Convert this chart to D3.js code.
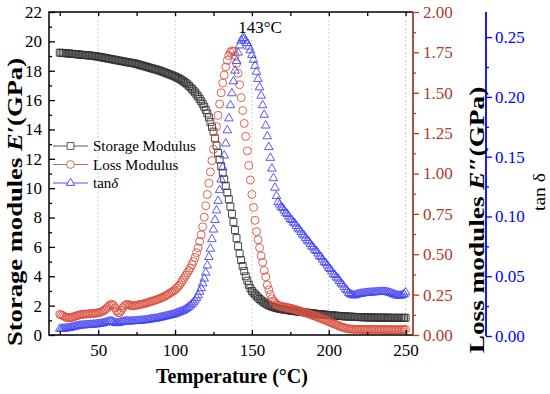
<!DOCTYPE html>
<html>
<head>
<meta charset="utf-8">
<script src="https://cdn.jsdelivr.net/npm/d3@7"></script>
<style>
body { margin: 0; background: #fff; }
text { font-family: "Liberation Serif", "Times New Roman", serif; }
</style>
</head>
<body>
<div id="chart"></div>
<script>
// temperature (°C) of every measured point
var temps = [
	25,26,27,28,29,30,31,32,33,34, 35,36,37,38,39,40,41,42,43,44,
	45,46,47,48,49,50,51,52,53,54, 55,56,57,58,59,60,61,62,63,64,
	65,66,67,68,69,70,71,72,73,74, 75,76,77,78,79,80,81,82,83,84,
	85,86,87,88,89,90,91,92,93,94, 95,96,97,98,99,100,101,102,103,104,
	105,106,107,108,109,110,111,112,113,114, 115,116,117,118,119,120,121,122,123,124,
	125,126,127,128,129,130,131,132,133,134, 135,136,137,138,139,140,141,142,143,144,
	145,146,147,148,149,150,151,152,153,154, 155,156,157,158,159,160,161,162,163,164,
	165,166,167,168,169,170,171,172,173,174, 175,176,177,178,179,180,181,182,183,184,
	185,186,187,188,189,190,191,192,193,194, 195,196,197,198,199,200,201,202,203,204,
	205,206,207,208,209,210,211,212,213,214, 215,216,217,218,219,220,221,222,223,224,
	225,226,227,228,229,230,231,232,233,234, 235,236,237,238,239,240,241,242,243,244,
	245,246,247,248,249,250
];

// storage modulus E' (GPa)
var storage = [
	19.23,19.22,19.21,19.20,19.19,19.18,19.17,19.16,19.15,19.14,
	19.13,19.12,19.11,19.10,19.09,19.08,19.07,19.06,19.05,19.04,
	19.03,19.02,19.00,18.99,18.97,18.96,18.94,18.92,18.90,18.88,
	18.86,18.84,18.82,18.80,18.78,18.76,18.74,18.72,18.70,18.68,
	18.66,18.64,18.62,18.60,18.58,18.56,18.55,18.53,18.51,18.49,
	18.46,18.43,18.40,18.37,18.34,18.31,18.28,18.25,18.22,18.19,
	18.16,18.13,18.10,18.07,18.04,18.01,17.97,17.93,17.89,17.85,
	17.81,17.77,17.73,17.69,17.65,17.60,17.55,17.50,17.44,17.38,
	17.31,17.24,17.16,17.07,16.97,16.87,16.76,16.64,16.52,16.38,
	16.24,16.08,15.92,15.74,15.55,15.33,15.09,14.82,14.50,14.18,
	13.85,13.40,12.90,12.40,11.95,11.50,11.05,10.60,10.15,9.70,
	9.25,8.75,8.25,7.70,7.15,6.60,6.05,5.55,5.10,4.70,
	4.35,4.00,3.70,3.42,3.18,3.00,2.88,2.77,2.66,2.55,
	2.45,2.36,2.28,2.21,2.14,2.08,2.03,1.98,1.94,1.90,
	1.87,1.84,1.81,1.79,1.77,1.75,1.73,1.71,1.70,1.68,
	1.67,1.65,1.64,1.62,1.61,1.60,1.58,1.57,1.56,1.54,
	1.53,1.52,1.50,1.49,1.48,1.47,1.46,1.44,1.43,1.42,
	1.41,1.40,1.39,1.38,1.37,1.36,1.35,1.34,1.33,1.32,
	1.31,1.30,1.30,1.29,1.28,1.27,1.27,1.26,1.25,1.25,
	1.24,1.24,1.23,1.23,1.22,1.22,1.21,1.21,1.21,1.20,
	1.20,1.20,1.20,1.19,1.19,1.19,1.19,1.19,1.18,1.18,
	1.18,1.18,1.18,1.18,1.18,1.17,1.17,1.17,1.17,1.17,
	1.17,1.17,1.17,1.17,1.17,1.17
];

// loss modulus E'' (GPa)
var loss = [
	0.128,0.125,0.120,0.115,0.110,0.107,0.106,0.107,0.110,0.113,
	0.116,0.119,0.122,0.125,0.127,0.128,0.129,0.130,0.130,0.131,
	0.132,0.133,0.134,0.135,0.136,0.138,0.140,0.143,0.147,0.153,
	0.161,0.170,0.180,0.188,0.190,0.183,0.168,0.150,0.138,0.140,
	0.152,0.168,0.180,0.188,0.190,0.187,0.183,0.181,0.181,0.182,
	0.184,0.186,0.188,0.190,0.192,0.194,0.197,0.200,0.203,0.206,
	0.209,0.212,0.215,0.218,0.222,0.226,0.230,0.234,0.239,0.244,
	0.249,0.255,0.261,0.267,0.273,0.280,0.290,0.300,0.310,0.325,
	0.340,0.355,0.370,0.385,0.400,0.415,0.435,0.455,0.480,0.510,
	0.540,0.580,0.620,0.670,0.730,0.800,0.870,0.940,1.010,1.080,
	1.150,1.220,1.290,1.360,1.430,1.500,1.560,1.610,1.660,1.700,
	1.730,1.750,1.760,1.755,1.730,1.680,1.620,1.550,1.470,1.390,
	1.310,1.230,1.140,1.050,0.960,0.870,0.790,0.710,0.640,0.590,
	0.540,0.490,0.450,0.400,0.360,0.310,0.280,0.250,0.225,0.210,
	0.200,0.190,0.185,0.180,0.178,0.176,0.174,0.172,0.170,0.168,
	0.166,0.163,0.161,0.158,0.155,0.152,0.149,0.146,0.143,0.140,
	0.137,0.134,0.131,0.127,0.124,0.120,0.117,0.113,0.110,0.106,
	0.102,0.099,0.095,0.091,0.087,0.083,0.079,0.075,0.071,0.067,
	0.063,0.059,0.055,0.051,0.048,0.045,0.042,0.040,0.038,0.037,
	0.036,0.036,0.035,0.035,0.035,0.035,0.035,0.034,0.034,0.034,
	0.034,0.034,0.034,0.034,0.034,0.034,0.034,0.034,0.034,0.034,
	0.033,0.033,0.033,0.033,0.033,0.033,0.033,0.033,0.033,0.033,
	0.033,0.033,0.033,0.033,0.033,0.034
];

// tan delta
var tanDelta = [
	0.0060,0.0060,0.0061,0.0062,0.0063,0.0065,0.0067,0.0070,0.0073,0.0076,
	0.0079,0.0082,0.0085,0.0087,0.0088,0.0089,0.0090,0.0091,0.0092,0.0093,
	0.0094,0.0095,0.0096,0.0097,0.0098,0.0100,0.0102,0.0104,0.0107,0.0110,
	0.0114,0.0118,0.0122,0.0124,0.0122,0.0116,0.0110,0.0107,0.0108,0.0112,
	0.0116,0.0120,0.0122,0.0123,0.0123,0.0122,0.0122,0.0123,0.0124,0.0125,
	0.0126,0.0127,0.0128,0.0129,0.0130,0.0131,0.0133,0.0135,0.0137,0.0139,
	0.0141,0.0143,0.0145,0.0147,0.0150,0.0153,0.0156,0.0159,0.0162,0.0165,
	0.0168,0.0171,0.0174,0.0177,0.0180,0.0185,0.0190,0.0195,0.0200,0.0205,
	0.0210,0.0217,0.0225,0.0235,0.0245,0.0255,0.0268,0.0282,0.0298,0.0318,
	0.0340,0.0370,0.0400,0.0440,0.0480,0.0530,0.0590,0.0660,0.0730,0.0810,
	0.0890,0.0970,0.1050,0.1130,0.1220,0.1310,0.1410,0.1510,0.1610,0.1720,
	0.1820,0.1930,0.2030,0.2130,0.2220,0.2300,0.2370,0.2430,0.2470,0.2490,
	0.2490,0.2470,0.2450,0.2420,0.2390,0.2350,0.2310,0.2260,0.2210,0.2150,
	0.2080,0.2010,0.1930,0.1850,0.1760,0.1670,0.1580,0.1490,0.1400,0.1320,
	0.1240,0.1170,0.1120,0.1100,0.1080,0.1070,0.1050,0.1030,0.1020,0.1000,
	0.0980,0.0970,0.0950,0.0940,0.0920,0.0900,0.0890,0.0870,0.0850,0.0840,
	0.0820,0.0800,0.0790,0.0770,0.0750,0.0740,0.0720,0.0710,0.0690,0.0670,
	0.0660,0.0640,0.0620,0.0610,0.0590,0.0570,0.0560,0.0540,0.0520,0.0510,
	0.0490,0.0480,0.0460,0.0440,0.0430,0.0410,0.0390,0.0380,0.0360,0.0350,
	0.0345,0.0340,0.0340,0.0345,0.0350,0.0352,0.0354,0.0356,0.0358,0.0360,
	0.0361,0.0362,0.0363,0.0364,0.0365,0.0366,0.0367,0.0368,0.0369,0.0370,
	0.0370,0.0370,0.0369,0.0367,0.0364,0.0360,0.0355,0.0350,0.0345,0.0340,
	0.0338,0.0337,0.0338,0.0342,0.0350,0.0365
];

// tick values
var xTicks = [50, 100, 150, 200, 250];
var xMinor = [25, 75, 125, 175, 225];
var leftTicks = [0, 2, 4, 6, 8, 10, 12, 14, 16, 18, 20, 22];
var leftMinor = [1, 3, 5, 7, 9, 11, 13, 15, 17, 19, 21];
var redTicks = [0, 0.25, 0.5, 0.75, 1, 1.25, 1.5, 1.75, 2];
var redMinor = [0.125, 0.375, 0.625, 0.875, 1.125, 1.375, 1.625, 1.875];
var blueTicks = [0, 0.05, 0.1, 0.15, 0.2, 0.25];
var blueMinor = [0.025, 0.075, 0.125, 0.175, 0.225];
var peakLabel = "143°C";

var width = 550, height = 394;
var plot = {left: 49, right: 413, top: 12, bottom: 335};
var redColor = "#ab3d28";
var blueColor = "#0000ff";

var x = d3.scaleLinear().domain([18, 254.8]).range([plot.left, plot.right]);
var yStor = d3.scaleLinear().domain([0, 22]).range([plot.bottom, plot.top]);
var yLoss = d3.scaleLinear().domain([0, 2]).range([plot.bottom, plot.top]);
var yTan = d3.scaleLinear().domain([0, 0.271]).range([336, 12]);

var svg = d3.select("#chart").append("svg")
	.attr("width", width)
	.attr("height", height);

svg.append("rect").attr("width", width).attr("height", height).attr("fill", "#fff");

// dashed vertical grid
svg.append("g").selectAll("line")
	.data(xTicks)
	.enter().append("line")
		.attr("x1", d => x(d)).attr("x2", d => x(d))
		.attr("y1", plot.top).attr("y2", plot.bottom)
		.attr("stroke", "#c4c4c4")
		.attr("stroke-width", 0.8)
		.attr("stroke-dasharray", "2,2");

// series points
var series = [
	{values: storage, y: yStor, type: d3.symbolSquare, size: 48, color: "#333"},
	{values: loss, y: yLoss, type: d3.symbolCircle, size: 50, color: "#d9503e"},
	{values: tanDelta, y: yTan, type: d3.symbolTriangle, size: 32, color: "#4646f0"}
];

series.forEach(function(s) {
	svg.append("g").selectAll("path")
		.data(temps)
		.enter().append("path")
			.attr("d", d3.symbol().type(s.type).size(s.size))
			.attr("transform", (d, i) => "translate(" + x(d) + "," + s.y(s.values[i]) + ")")
			.attr("fill", "none")
			.attr("stroke", s.color)
			.attr("stroke-width", 0.9);
});

function styleAxis(g, color) {
	g.select(".domain").remove();
	g.selectAll("line").attr("stroke", color).attr("stroke-width", 1.3);
	g.selectAll("text").attr("fill", color).style("font-size", "17px")
		.style("font-family", "'Liberation Serif', 'Times New Roman', serif");
}

// bottom axis (ticks inward)
svg.append("g")
	.attr("transform", "translate(0," + plot.bottom + ")")
	.call(d3.axisBottom(x).tickValues(xTicks).tickSize(-5).tickPadding(9))
	.call(g => styleAxis(g, "#000"));
svg.append("g")
	.attr("transform", "translate(0," + plot.bottom + ")")
	.call(d3.axisBottom(x).tickValues(xMinor).tickSize(-3).tickFormat(""))
	.call(g => styleAxis(g, "#000"));

// top axis (ticks only)
svg.append("g")
	.attr("transform", "translate(0," + plot.top + ")")
	.call(d3.axisTop(x).tickValues(xTicks.concat(xMinor)).tickSize(-4).tickFormat(""))
	.call(g => styleAxis(g, "#000"));

// left axis
svg.append("g")
	.attr("transform", "translate(" + plot.left + ",0)")
	.call(d3.axisLeft(yStor).tickValues(leftTicks).tickSize(-6).tickPadding(7))
	.call(g => styleAxis(g, "#000"));
svg.append("g")
	.attr("transform", "translate(" + plot.left + ",0)")
	.call(d3.axisLeft(yStor).tickValues(leftMinor).tickSize(-3).tickFormat(""))
	.call(g => styleAxis(g, "#000"));

// frame top/left/bottom
svg.append("path")
	.attr("d", "M" + plot.right + "," + plot.top + "H" + plot.left + "V" + plot.bottom + "H" + plot.right)
	.attr("fill", "none")
	.attr("stroke", "#000")
	.attr("stroke-width", 1.5);

// red right axis for loss modulus
svg.append("g")
	.attr("transform", "translate(" + plot.right + ",0)")
	.call(d3.axisRight(yLoss).tickValues(redTicks).tickSize(6).tickPadding(4).tickFormat(d3.format(".2f")))
	.call(g => styleAxis(g, redColor));
svg.append("g")
	.attr("transform", "translate(" + plot.right + ",0)")
	.call(d3.axisRight(yLoss).tickValues(redMinor).tickSize(3).tickFormat(""))
	.call(g => styleAxis(g, redColor));
svg.append("line")
	.attr("x1", plot.right).attr("x2", plot.right)
	.attr("y1", plot.top).attr("y2", plot.bottom)
	.attr("stroke", redColor).attr("stroke-width", 1.8);

// blue axis for tan delta
var blueX = 486;
svg.append("g")
	.attr("transform", "translate(" + blueX + ",0)")
	.call(d3.axisRight(yTan).tickValues(blueTicks).tickSize(6).tickPadding(3).tickFormat(d3.format(".2f")))
	.call(g => styleAxis(g, blueColor));
svg.append("g")
	.attr("transform", "translate(" + blueX + ",0)")
	.call(d3.axisRight(yTan).tickValues(blueMinor).tickSize(3).tickFormat(""))
	.call(g => styleAxis(g, blueColor));
svg.append("line")
	.attr("x1", blueX).attr("x2", blueX)
	.attr("y1", yTan.range()[1]).attr("y2", yTan.range()[0])
	.attr("stroke", blueColor).attr("stroke-width", 1.8);

// axis titles
svg.append("text")
	.attr("x", 232).attr("y", 383)
	.attr("text-anchor", "middle")
	.style("font-size", "20px").style("font-weight", "bold")
	.text("Temperature (°C)");

// rotated titles are drawn stretched along their length, as in the original
var leftTitle = svg.append("text")
	.attr("transform", "translate(22,202) rotate(-90) scale(1.33,1)")
	.attr("text-anchor", "middle")
	.style("font-size", "20px").style("font-weight", "bold");
leftTitle.append("tspan").text("Storage modules ");
leftTitle.append("tspan").style("font-style", "italic").text("E");
leftTitle.append("tspan").text("′(GPa)");

var rightTitle = svg.append("text")
	.attr("transform", "translate(484,220) rotate(-90) scale(1.33,1)")
	.attr("text-anchor", "middle")
	.style("font-size", "20.5px").style("font-weight", "bold");
rightTitle.append("tspan").text("Loss modules ");
rightTitle.append("tspan").style("font-style", "italic").text("E");
rightTitle.append("tspan").text("″(GPa)");

svg.append("text")
	.attr("transform", "translate(545,192) rotate(-90) scale(1.15,1)")
	.attr("text-anchor", "middle")
	.style("font-size", "17px")
	.text("tan δ");

// peak annotation
svg.append("text")
	.attr("x", 260).attr("y", 33)
	.attr("text-anchor", "middle")
	.style("font-size", "17px")
	.text(peakLabel);

// legend
var legendItems = [
	{label: "Storage Modulus", type: d3.symbolSquare, size: 46, color: "#555"},
	{label: "Loss Modulus", type: d3.symbolCircle, size: 48, color: "#c07060"},
	{label: "tan", italic: "δ", type: d3.symbolTriangle, size: 30, color: "#5050f0"}
];
var legend = svg.append("g").attr("transform", "translate(53,146)");
legendItems.forEach(function(d, i) {
	var row = legend.append("g").attr("transform", "translate(0," + (i * 18.5) + ")");
	row.append("line").attr("x1", 0).attr("x2", 35)
		.attr("stroke", d.color).attr("stroke-width", 1);
	row.append("path")
		.attr("d", d3.symbol().type(d.type).size(d.size))
		.attr("transform", "translate(17.5,0)")
		.attr("fill", "#fff")
		.attr("stroke", d.color)
		.attr("stroke-width", 1);
	var t = row.append("text").attr("x", 40).attr("y", 5).style("font-size", "15px").text(d.label);
	if (d.italic) t.append("tspan").style("font-style", "italic").text(d.italic);
});
</script>
</body>
</html>
